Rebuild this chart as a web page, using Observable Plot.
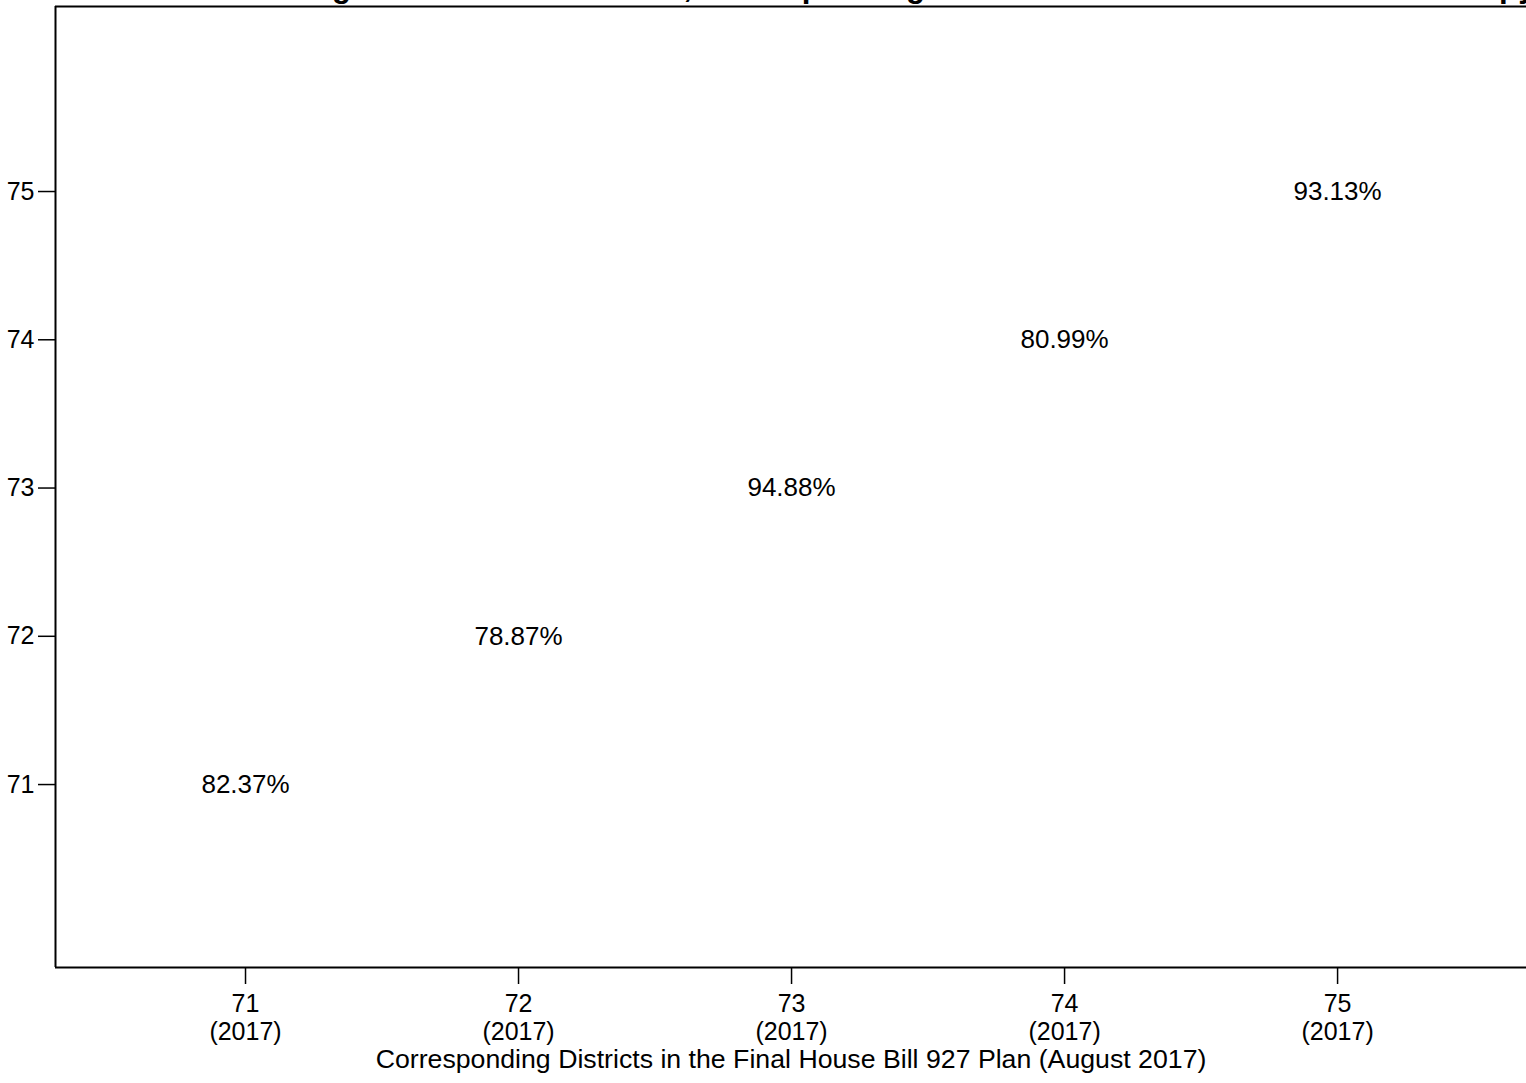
<!DOCTYPE html>
<html>
<head>
<meta charset="utf-8">
<script src="https://cdn.jsdelivr.net/npm/d3@7"></script>
<script src="https://cdn.jsdelivr.net/npm/@observablehq/plot@0.6"></script>
<style>
  html, body { margin: 0; padding: 0; background: #fff; overflow: hidden; }
  #chart svg { display: block; font-family: "Liberation Sans", Arial, sans-serif; }
</style>
</head>
<body>
<div id="chart"></div>
<script>
// Data
const titleText = "Share of Voters Remaining in Their 2011 Districts, Corresponding Districts in the House Bill 927 Plan Copy";
const districts = [71, 72, 73, 74, 75];
const shares = ["82.37%", "78.87%", "94.88%", "80.99%", "93.13%"];
const xTickYear = "(2017)";
const xLabel = "Corresponding Districts in the Final House Bill 927 Plan (August 2017)";
const xDomain = [70.304, 75.692];
const yDomain = [69.766, 76.248];

const rows = districts.map((d, i) => ({district: d, share: shares[i]}));

const chart = Plot.plot({
  width: 1526,
  height: 1083,
  marginLeft: 55,
  marginRight: 0,
  marginTop: 6,
  marginBottom: 116,
  style: {fontFamily: '"Liberation Sans", Arial, sans-serif', fontSize: "26px", color: "#000", background: "#fff"},
  x: {domain: xDomain},
  y: {domain: yDomain},
  marks: [
    Plot.ruleY([yDomain[1]], {stroke: "#000", strokeWidth: 2}),
    Plot.ruleY([yDomain[0]], {stroke: "#000", strokeWidth: 2}),
    Plot.ruleX([xDomain[0]], {stroke: "#000", strokeWidth: 2}),
    Plot.axisX({
      ticks: districts,
      tickSize: 17,
      tickPadding: 8,
      tickFormat: d => `${d}\n${xTickYear}`,
      fontSize: 25,
      lineHeight: 1.1,
      stroke: "#000",
      strokeWidth: 1.5,
      label: null
    }),
    Plot.axisY({
      ticks: districts,
      tickSize: 17,
      tickPadding: 4,
      tickFormat: d => `${d}`,
      fontSize: 25,
      stroke: "#000",
      strokeWidth: 1.5,
      label: null
    }),
    Plot.text([xLabel], {frameAnchor: "bottom", dy: 92, lineAnchor: "middle", text: d => d, fontSize: 26.7, fill: "#000"}),
    Plot.text(rows, {x: "district", y: "district", text: "share", fontSize: 26, fill: "#000"}),
    Plot.text([titleText], {frameAnchor: "top-left", dx: -102, dy: -10, textAnchor: "start", lineAnchor: "bottom", text: d => d, fontSize: 31.3, fontWeight: "bold", fill: "#000"})
  ]
});
document.getElementById("chart").appendChild(chart);
</script>
</body>
</html>
